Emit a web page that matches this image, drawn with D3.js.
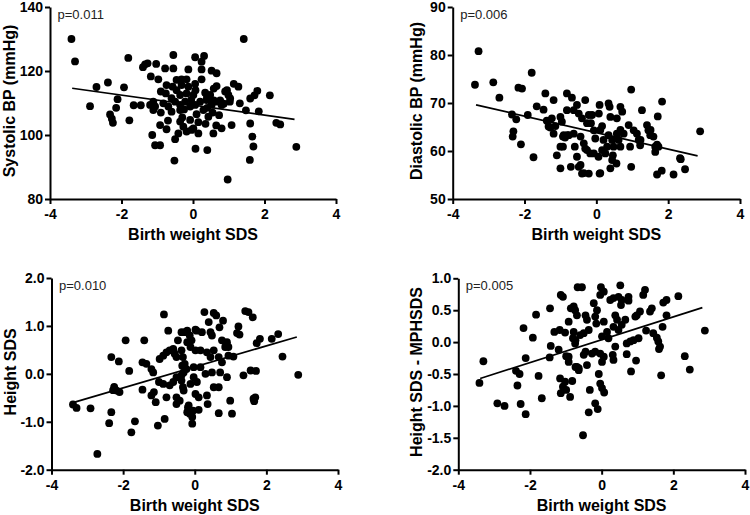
<!DOCTYPE html>
<html><head><meta charset="utf-8">
<script src="https://cdn.jsdelivr.net/npm/d3@7"></script>
<style>
body{margin:0;background:#fff}
svg{display:block}
text{font-family:"Liberation Sans",Arial,Helvetica,sans-serif}
</style>
</head><body>
<svg id="chart" width="750" height="515"></svg>
<script>
// ---------- data ----------
const xTicks = [-4, -2, 0, 2, 4];
const sbpTicks = [80, 100, 120, 140];
const dbpTicks = [50, 60, 70, 80, 90];
const heightTicks = [-2, -1, 0, 1, 2];
const mphTicks = [-2, -1.5, -1, -0.5, 0, 0.5, 1];

const xTitle = "Birth weight SDS";
const yTitles = ["Systolic BP (mmHg)", "Diastolic BP (mmHg)", "Height SDS", "Height SDS - MPHSDS"];
const pValues = ["p=0.011", "p=0.006", "p=0.010", "p=0.005"];

const sbpData = [
[-3.4,130],[-3.3,123],[-2.88,109],[-2.7,115],[-2.38,116.4],[-2.32,106.4],[-2.27,105.1],[-2.24,103.8],[-2.15,108.5],[-2.11,111.2],
[-1.93,114.9],[-1.81,124.1],[-1.78,104.6],[-1.66,109.3],[-1.46,109.3],[-1.4,121.2],[-1.34,122.1],[-1.27,122.4],
[-1.18,118.3],[-1.11,110.4],[-1.2,109.4],[-1.06,108.9],[-1.11,107.8],[-1.14,100],[-1.06,96.8],[-0.92,96.8],[-0.97,117.4],[-1.03,122.2],
[-0.92,103.1],[-0.9,113.6],[-0.83,109.9],[-0.78,120.8],[-0.55,120.8],[-0.55,125],[-0.74,115.6],[-0.57,115.1],[-0.76,113],[-0.69,108.9],
[-0.74,101.8],[-0.6,107.3],[-0.5,110.4],[-0.46,117.2],[-0.46,114],[-0.41,100.5],[-0.5,98.7],[-0.52,92],
[-0.36,112.5],[-0.36,109.4],[-0.36,107.8],[-0.36,104.2],[-0.32,117.4],[-0.32,115.6],[-0.27,102.6],[-0.22,110.4],[-0.18,117.4],[-0.18,113],
[-0.18,101.1],[-0.13,120.5],[-0.13,115.1],[-0.08,108.9],[-0.08,104.7],[-0.04,101.6],[0.01,112.5],[0.01,102.1],[0.06,124.3],[0.06,116],
[0.06,109.4],[0.07,114],[0.07,95.7],[0.4,95.3],[0.15,100.5],[0.2,110.4],[0.24,122.9],[0.24,120.5],[0.24,117.4],[0.29,107.8],[0.31,124.7],
[0.34,113.2],[0.38,110.9],[0.43,105.7],[0.48,112.5],[0.52,120.1],[0.52,109.4],[0.57,100.5],[0.58,114.5],[0.66,119.3],[0.66,115.3],[0.66,110.4],
[0.73,106.2],[0.8,109.4],[0.8,102.1],[0.9,113.6],[0.95,114],[0.99,112.5],[1.03,110.4],[1.08,103.1],[1.14,116],[1.27,115.1],[1.31,109.9],
[1.42,130],[1.48,107.7],[1.6,103.6],[1.6,111.4],[1.66,99.5],[1.69,96.4],[1.59,92.2],[1.72,112.4],[1.8,113.8],[1.84,107.4],[2.15,112.4],
[2.33,103.8],[2.44,103.3],[2.89,96.3],[0.97,86.1],
[-0.25,108],[0.1,106.5],[-0.6,111.5],[0.55,107],[0.15,104],[-0.9,107],[0.35,103.5],[-0.3,105.5],[-0.05,111],[0.4,108.5],[-0.7,104.5],[0.65,103],
[0.58,110.8],[0.39,111.9],[0.86,109.8],[1.04,111.4],[0.76,110.8]
];
const sbpFit = [[-3.38,114.6],[2.84,104.9]];

const dbpData = [
[-3.38,73.8],[-3.28,80.8],[-2.87,74.3],[-2.7,71.1],[-2.35,67.6],[-2.23,66.6],[-2.31,64.1],[-2.33,63],[-2.17,73.2],[-2.07,73],[-2.1,61.4],
[-1.91,67.5],[-1.8,76.3],[-1.75,58.7],[-1.66,69.3],[-1.47,68.6],[-1.42,72],[-1.38,66.3],[-1.28,64.9],[-1.24,66.8],[-1.19,70.6],[-1.14,65.2],
[-1.19,63.6],[-1.1,59.1],[-1.0,67.1],[-0.96,66.1],[-1.0,60.9],[-0.93,60.9],[-1.0,56.4],[-0.93,63],[-0.87,62.8],[-0.82,68.5],[-0.82,72],
[-0.68,71.1],[-0.77,63.3],[-0.71,56.7],[-0.6,60.9],[-0.54,58.8],[-0.49,56.7],
[-0.54,69.6],[-0.31,70.6],[-0.49,67.8],[-0.4,66.8],[-0.63,68.5],[-0.12,67.5],[0.07,67.8],[0.09,69.6],[0.34,69.9],[0.37,69.2],[0.67,69.2],
[0.72,68.2],[0.97,72.8],[1.27,68.5],[1.71,67.2],[1.83,70.3],[1.41,65.4],[1.45,64.3],[2.89,64.1],[2.35,58.3],[2.47,56.2],[2.15,55.1],
[1.69,55.1],[1.82,55.9],[0.97,56.7],
[-0.81,63.3],[-0.63,63.6],[-0.44,63],[-0.35,61.6],[-0.31,60.5],[-0.17,59.5],[-0.07,59.5],[0.06,58.8],[-0.07,64.3],[-0.03,62.6],[0.16,65.2],
[0.39,67.1],[0.57,66.8],[0.2,62.3],[0.34,63.3],[0.44,62.3],[0.48,60.9],[0.57,63.6],[0.62,62.3],[0.67,60.9],[0.76,63.6],[0.9,65.4],[1.04,64.3],
[1.13,63.6],[1.18,62.3],[0.94,60.9],[1.22,61.2],[1.5,63.3],[1.59,63],[1.64,60.9],[1.73,60.9],[1.64,59.8],[-0.44,57.1],[-0.4,55.3],[-0.21,55.3],
[0.09,55.3],[0.39,56.4],[0.56,57.4],[0.46,59.1],[0.44,58.1],[-0.21,67.5],[-0.15,65.8],
[-0.26,65.8],[0.11,64.4],[0.67,64.4],[0.58,62.6],[1.23,62.3],[1.69,61.3],[1.51,64.4],[-1.33,65.1],[-0.91,63.3],
[-0.26,60.2],[0.16,60.2],[0.3,60.9],[0.25,59.5],[2.33,58.5],[-0.35,55.4],[0.11,55.4]
];
const dbpFit = [[-3.35,69.6],[2.82,59.0]];

const heightData = [
[-3.4,-0.64],[-3.3,-0.71],[-2.91,-0.72],[-2.72,-1.67],[-2.33,0.35],[-2.12,0.26],[-2.33,-0.8],[-2.39,-1.03],[-2.25,-0.27],[-2.18,-0.35],
[-2.1,-0.38],[-2.28,-0.34],[-1.93,0.7],[-1.83,0.06],[-1.67,-0.99],[-1.77,-1.22],[-1.41,0.7],[-1.46,0.24],[-1.35,0.21],[-1.46,-0.33],
[-1.21,0.1],[-1.16,0.03],[-1.21,-0.45],[-1.14,-0.38],[-1.09,-0.59],[-1.03,-1.08],[-0.84,-0.94],[-0.86,1.24],[-0.74,0.9],
[-0.98,0.31],[-0.88,0.38],[-0.79,0.45],[-0.7,0.49],[-0.6,0.52],[-0.56,0.42],[-0.51,0.35],[-1.0,-0.17],[-0.88,-0.21],[-0.7,-0.24],[-0.6,-0.17],
[-0.51,-0.07],[-0.79,-0.49],[-0.51,-0.49],[-0.42,-0.56],[-0.51,-0.63],[-0.47,0.7],[-0.37,0.87],[-0.28,0.87],[-0.14,0.8],[-0.09,0.7],[0.05,0.9],
[-0.37,0.49],[-0.33,0.35],[-0.28,0.21],[-0.23,0.1],[-0.37,-0.03],[-0.37,-0.14],[-0.33,-0.28],[-0.19,-0.7],[-0.14,-0.83],[-0.05,-0.77],[-0.07,-1.04],
[0.27,1.29],[0.53,1.27],[0.6,1.22],[0.39,1.08],[0.79,1.11],[0.69,0.97],[1.41,1.31],[1.5,1.29],[1.62,1.18],[1.22,0.99],[1.25,0.82],[1.18,0.85],
[-0.21,0.9],[0.02,0.92],[0.2,0.87],[0.44,0.87],[0.48,0.8],[0.76,0.7],[0.9,0.66],[0.94,0.56],[0.85,0.56],[1.73,0.64],[1.82,0.73],[2.15,0.73],
[2.33,0.83],[2.45,0.36],[2.89,-0.02],[-0.21,0.66],[-0.12,0.56],[0.02,0.49],[0.16,0.49],[0.34,0.45],[0.53,0.49],[0.44,0.35],[0.67,0.35],
[0.76,0.24],[0.94,0.38],[1.08,0.36],[1.36,-0.03],[1.56,0.07],[1.71,0.06],[0.53,-0.28],[0.67,-0.28],[1.64,-0.52],[1.69,-0.49],[1.66,-0.57],
[0.99,-0.56],[-0.17,-0.66],[-0.21,-0.8],[-0.07,-0.9],[0.11,-0.75],[0.36,-0.63],[0.67,-0.82],[1.04,-0.83],
[-0.03,0.14],[0.16,0.14],[0.3,0.0],[0.48,0.03],[0.71,0.03],[0.9,-0.07],[-0.03,-0.07],[0.06,-0.17],[-0.12,-0.21],[-0.31,-0.35],[0.02,-0.42],
[0.34,-0.45],[0.11,-0.49],[-0.31,0.03],[-0.35,0.17]
];
const heightFit = [[-3.4,-0.6],[2.85,0.77]];

const mphData = [
[-3.41,-0.64],[-3.3,-0.3],[-2.91,-0.96],[-2.71,-1.0],[-2.26,-0.97],[-2.12,-1.13],[-2.35,-0.68],[-2.39,-0.45],[-2.29,-0.5],[-2.12,-0.25],
[-2.18,0.22],[-1.92,0.07],[-1.83,0.43],[-1.76,-0.53],[-1.67,-0.88],[-1.44,0.53],[-1.42,-0.06],[-1.45,-0.24],[-1.32,0.16],[-1.17,0.19],
[-1.02,0.15],[-1.14,0.74],[-1.08,0.71],[-0.92,0.32],[-1.2,-0.12],[-0.99,-0.22],[-0.92,-0.31],[-0.86,0.53],[-0.74,0.5],[-0.67,0.86],
[-1.16,-0.57],[-1.02,-0.62],[-1.08,-0.7],[-0.99,-0.75],[-1.14,-0.8],[-0.88,-0.86],[-0.8,0.06],[-0.74,-0.02],[-0.69,-0.39],[-0.64,-0.44],[-0.6,0.11],
[-0.55,0.86],[-0.02,0.86],[0.06,0.79],[-0.04,0.74],[0.52,0.89],[0.24,0.66],[0.33,0.69],[0.47,0.71],[0.56,0.66],[0.54,0.58],
[0.75,0.71],[0.75,0.65],[1.21,0.82],[1.16,0.74],[2.14,0.72],[1.81,0.66],[1.72,0.62],[1.4,0.53],[1.35,0.48],[1.07,0.48],[0.98,0.42],[0.94,0.4],
[1.81,0.42],[2.88,0.18],[1.7,0.24],[1.24,0.18],[1.44,0.14],[1.54,0.07],[1.58,0.01],[1.63,-0.07],[1.6,-0.11],[1.03,0.06],[0.89,0.03],[0.8,0.01],
[0.7,-0.02],[2.32,-0.22],[2.46,-0.43],[1.66,-0.52],[0.82,-0.46],[0.96,-0.29],[0.7,-0.19],[-0.78,0.56],[-0.69,0.42],
[-0.22,0.61],[-0.13,0.5],[-0.18,0.4],[-0.15,0.29],[-0.45,0.42],[-0.41,0.35],[-0.36,0.19],[-0.5,0.14],[-0.73,0.03],[-0.78,0.16],
[0.06,0.32],[0.15,0.16],[0.19,0.06],[0.01,0.09],[0.33,0.24],[0.47,0.19],[0.56,0.27],[0.66,0.35],[0.43,0.35],[0.38,0.42],
[0.38,-0.07],[0.31,-0.2],[0.33,-0.28],[0.06,-0.23],[0.01,-0.31],[-0.04,-0.18],[-0.18,-0.15],[-0.27,-0.18],[-0.45,-0.15],[-0.5,-0.2],
[-0.92,-0.23],[-0.73,-0.39],[-0.64,-0.41],[-0.41,-0.36],[-0.08,-0.5],[-0.82,-0.61],
[-0.33,-0.75],[-0.04,-0.65],[0.01,-0.72],[0.07,-0.79],[-0.18,-0.96],[-0.11,-1.05],[-0.36,-1.1],[-0.52,-1.46]
];
const mphFit = [[-3.39,-0.57],[2.81,0.54]];

// ---------- layout ----------
const panels = [
  {data: sbpData, fit: sbpFit, p: pValues[0], yTitle: yTitles[0], yDomain: [80, 140], yTicks: sbpTicks, fmt: d => String(d),
   left: 50, right: 336, top: 7, bottom: 199, yTitleX: 15},
  {data: dbpData, fit: dbpFit, p: pValues[1], yTitle: yTitles[1], yDomain: [50, 90], yTicks: dbpTicks, fmt: d => String(d),
   left: 452.7, right: 740, top: 7, bottom: 199, yTitleX: 421.5},
  {data: heightData, fit: heightFit, p: pValues[2], yTitle: yTitles[2], yDomain: [-2, 2], yTicks: heightTicks, fmt: d => d.toFixed(1),
   left: 51.5, right: 338, top: 278, bottom: 469.7, yTitleX: 15.5},
  {data: mphData, fit: mphFit, p: pValues[3], yTitle: yTitles[3], yDomain: [-2, 1], yTicks: mphTicks, fmt: d => d.toFixed(1),
   left: 458.3, right: 745, top: 278.3, bottom: 469.7, yTitleX: 421.5}
];

const svg = d3.select("#chart");
svg.append("rect").attr("width", 750).attr("height", 515).attr("fill", "#fff");

panels.forEach(pn => {
  const x = d3.scaleLinear().domain([-4, 4]).range([pn.left, pn.right]);
  const y = d3.scaleLinear().domain(pn.yDomain).range([pn.bottom, pn.top]);
  const g = svg.append("g");

  // points
  g.append("g").selectAll("circle").data(pn.data).join("circle")
    .attr("cx", d => x(d[0])).attr("cy", d => y(d[1])).attr("r", 3.9).attr("fill", "#000");

  // regression line
  g.append("path").datum(pn.fit)
    .attr("d", d3.line().x(d => x(d[0])).y(d => y(d[1])))
    .attr("stroke", "#000").attr("stroke-width", 1.7).attr("fill", "none");

  // axes
  const xa = g.append("g").attr("transform", `translate(0,${pn.bottom})`)
    .call(d3.axisBottom(x).tickValues(xTicks).tickFormat(d => String(d)).tickSize(5).tickSizeOuter(0).tickPadding(5));
  const ya = g.append("g").attr("transform", `translate(${pn.left},0)`)
    .call(d3.axisLeft(y).tickValues(pn.yTicks).tickFormat(pn.fmt).tickSize(5).tickSizeOuter(0).tickPadding(2));
  [xa, ya].forEach(a => {
    a.select(".domain").attr("stroke", "#000").attr("stroke-width", 2);
    a.selectAll(".tick line").attr("stroke", "#000").attr("stroke-width", 2);
    a.selectAll(".tick text").attr("fill", "#000").attr("font-size", 14).attr("font-weight", "bold")
      .attr("font-family", '"Liberation Sans",Arial,sans-serif');
  });

  // p-value
  g.append("text").attr("x", pn.left + 7.5).attr("y", pn.top + 12)
    .attr("font-size", 13).attr("fill", "#222").text(pn.p);

  // x title
  g.append("text").attr("x", (pn.left + pn.right) / 2).attr("y", pn.bottom + 41)
    .attr("text-anchor", "middle").attr("font-size", 16).attr("font-weight", "bold").text(xTitle);

  // y title
  g.append("text").attr("transform", `translate(${pn.yTitleX},${(pn.top + pn.bottom) / 2 - 2}) rotate(-90)`)
    .attr("text-anchor", "middle").attr("font-size", 16).attr("font-weight", "bold").text(pn.yTitle);
});
</script>
</body></html>
